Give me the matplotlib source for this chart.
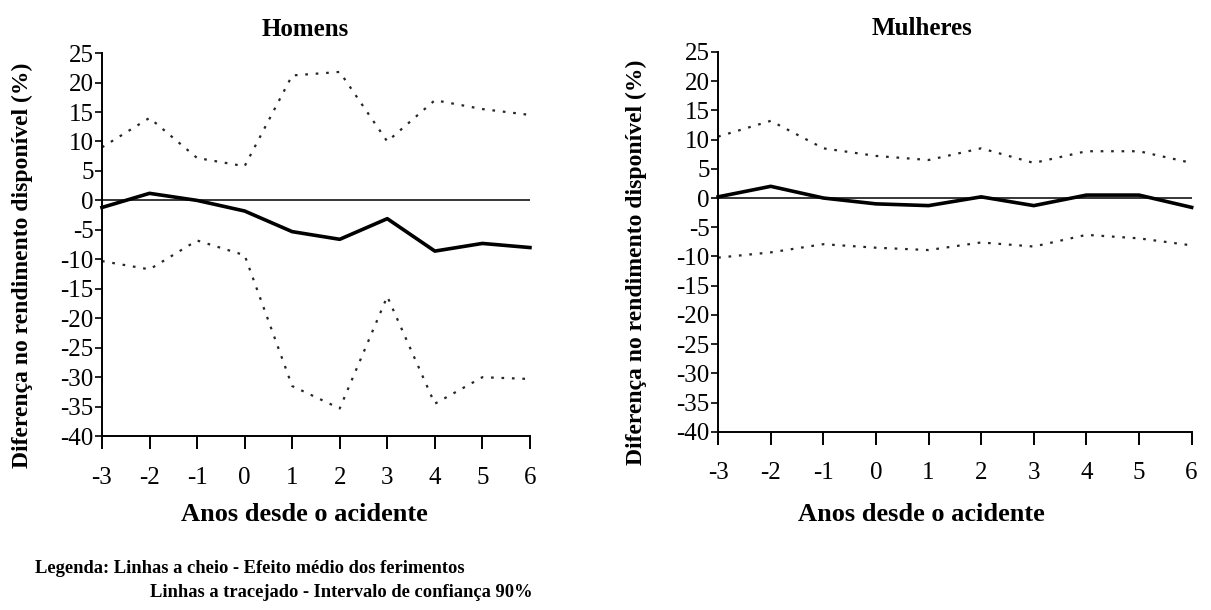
import matplotlib
matplotlib.use("Agg")
import matplotlib.pyplot as plt
import numpy as np

plt.rcParams['font.family'] = ['Liberation Serif', 'DejaVu Serif']

anos = [-3, -2, -1, 0, 1, 2, 3, 4, 5, 6]

# Homens
h_media = [-1.2, 1.2, 0.0, -1.8, -5.3, -6.6, -3.1, -8.6, -7.3, -8.0]
h_sup = [9.0, 14.0, 7.2, 5.8, 21.2, 21.8, 10.0, 17.0, 15.5, 14.5]
h_inf = [-10.3, -11.7, -6.8, -9.3, -31.5, -35.3, -16.3, -34.5, -30.0, -30.3]

# Mulheres
m_media = [0.2, 2.0, 0.0, -1.0, -1.3, 0.2, -1.3, 0.5, 0.5, -1.6]
m_sup = [10.5, 13.2, 8.5, 7.2, 6.5, 8.5, 6.0, 8.0, 8.0, 6.0]
m_inf = [-10.2, -9.3, -7.9, -8.5, -8.9, -7.6, -8.3, -6.3, -6.9, -8.1]

yticks = list(range(-40, 30, 5))

fig = plt.figure(figsize=(12.11, 6.10), dpi=100)
ax1 = fig.add_axes([0.0842, 0.285, 0.3534, 0.628])
ax2 = fig.add_axes([0.593, 0.292, 0.391, 0.623])


def painel(ax, titulo, media, sup, inf, xlab_y, ylab_x, centro_x):
    ax.axhline(0, color='black', lw=1.1, zorder=1)
    ax.plot(anos, sup, color='0.15', lw=1.6, ls=(0, (1.2, 3.5)), clip_on=False)
    ax.plot(anos, inf, color='0.15', lw=1.6, ls=(0, (1.2, 3.5)), clip_on=False)
    ax.plot(anos, media, color='black', lw=2.6, clip_on=False, zorder=3)
    ax.set_xlim(-3, 6)
    ax.set_ylim(-40, 25)
    ax.set_xticks(anos)
    ax.set_xticklabels([str(a) for a in anos])
    ax.set_yticks(yticks)
    ax.set_yticklabels([str(t) for t in yticks])
    ax.spines['top'].set_visible(False)
    ax.spines['right'].set_visible(False)
    ax.spines['left'].set_linewidth(1.4)
    ax.spines['bottom'].set_linewidth(1.4)
    ax.tick_params(axis='x', direction='out', length=9, width=1.4, pad=13, labelsize=18)
    ax.tick_params(axis='y', direction='out', length=5, width=1.2, pad=1, labelsize=18)
    t = ax.set_title(titulo, fontsize=18, fontweight='bold', pad=12)
    t.set_x(centro_x)
    ax.set_xlabel('Anos desde o acidente', fontsize=19, fontweight='bold', va='center')
    ax.xaxis.set_label_coords(centro_x, xlab_y)
    ax.set_ylabel('Diferença no rendimento disponível (%)', fontsize=17,
                  fontweight='bold', va='center')
    ax.yaxis.set_label_coords(ylab_x, 0.447)


painel(ax1, 'Homens', h_media, h_sup, h_inf, -0.205, -0.187, 0.474)
painel(ax2, 'Mulheres', m_media, m_sup, m_inf, -0.218, -0.173, 0.43)

fig.text(0.029, 0.068, 'Legenda: Linhas a cheio - Efeito médio dos ferimentos',
         fontsize=13.3, fontweight='bold', va='center')
fig.text(0.124, 0.029, 'Linhas a tracejado - Intervalo de confiança 90%',
         fontsize=13.3, fontweight='bold', va='center')

fig.savefig('out.png', dpi=100)
